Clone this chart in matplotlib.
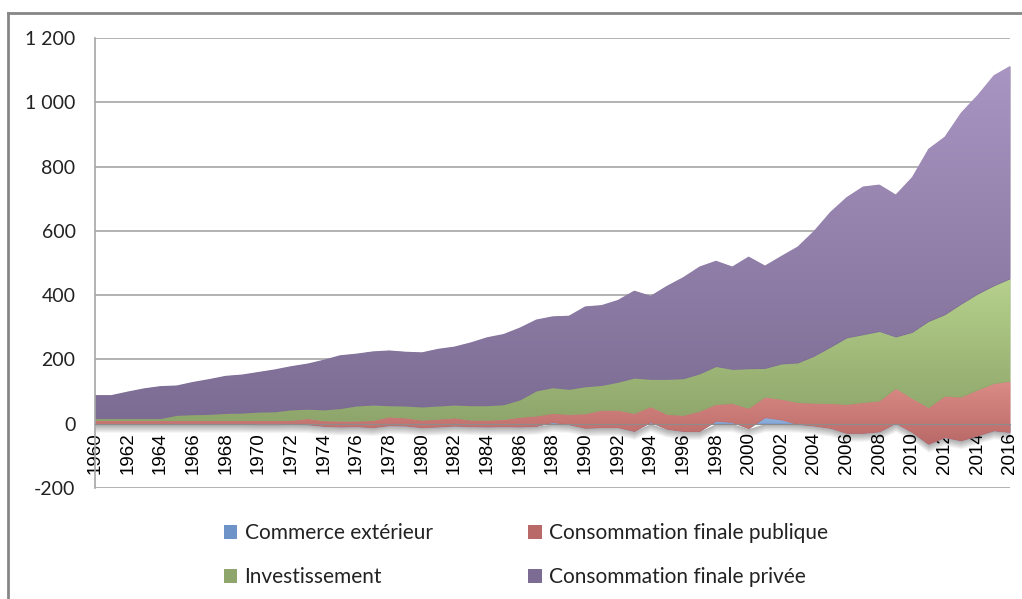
import numpy as np
import matplotlib
matplotlib.use("Agg")
import matplotlib.pyplot as plt
from matplotlib.colors import LinearSegmentedColormap
from matplotlib.patches import Patch
from matplotlib.lines import Line2D


# =============================================================================
# data
# =============================================================================

years = np.arange(1960, 2017)

commerce = np.array([-2, -2, -2, -2, -2, -2, -2, -2, -2, -2, -3, -3, -2, -3, -8,
                     -10, -9, -12, -6, -7, -12, -10, -7, -9, -10, -9, -10, -8, 4,
                     -3, -14, -12, -12, -24, 4, -17, -24, -24, 8, 4, -15, 19, 12,
                     -2, -7, -14, -30, -30, -25, 1, -27, -64, -43, -53, -38, -22,
                     -27])

publique = np.array([12, 12, 12, 12, 12, 12, 12, 12, 12, 12, 13, 13, 12, 19, 17,
                     18, 17, 22, 27, 25, 23, 24, 25, 20, 21, 22, 30, 32, 28, 32,
                     45, 54, 54, 56, 49, 46, 50, 63, 52, 59, 63, 64, 64, 68, 71,
                     77, 90, 96, 96, 109, 106, 114, 129, 136, 143, 147, 159])

investissement = np.array([6, 6, 6, 6, 6, 16, 18, 19, 22, 23, 26, 27, 33, 29, 34,
                           39, 47, 48, 35, 37, 41, 41, 40, 45, 45, 46, 54, 78, 80,
                           78, 84, 77, 87, 110, 85, 109, 114, 116, 118, 106, 123,
                           89, 110, 123, 146, 175, 207, 211, 216, 160, 205, 268,
                           253, 289, 298, 304, 319])

privee = np.array([73, 73, 84, 94, 101, 93, 102, 110, 117, 120, 125, 132, 136,
                   142, 156, 166, 163, 167, 172, 169, 170, 178, 182, 197, 213,
                   220, 225, 222, 222, 229, 250, 250, 256, 272, 260, 291, 316,
                   334, 329, 320, 349, 320, 336, 362, 390, 421, 438, 461, 457,
                   443, 483, 537, 554, 596, 619, 655, 662])

labels = ['Commerce extérieur', 'Consommation finale publique',
          'Investissement', 'Consommation finale privée']

# (top colour, bottom colour) of each gradient
colors = [('#8FB0DE', '#6E93C8'),
          ('#DC8C86', '#B96A68'),
          ('#B6D18C', '#8EA66B'),
          ('#A995C2', '#7C6C93')]


def grad_fill(ax, x, lo, hi, c_top, c_bot, z):
    poly = ax.fill_between(x, lo, hi, color=c_bot, lw=0, zorder=z)
    ymin = min(lo.min(), hi.min())
    ymax = max(lo.max(), hi.max())
    cmap = LinearSegmentedColormap.from_list('g', [c_bot, c_top])
    im = ax.imshow(np.linspace(0, 1, 256).reshape(-1, 1), cmap=cmap,
                   aspect='auto', origin='lower', interpolation='bilinear',
                   extent=[x[0], x[-1], ymin, ymax], zorder=z)
    im.set_clip_path(poly.get_paths()[0], transform=ax.transData)
    return poly


# =============================================================================
# plot
# =============================================================================

fig = plt.figure(figsize=(10.22, 5.99), dpi=100)
ax = fig.add_axes([95/1022, 1 - 488/599, 915/1022, 450/599])

# axis line at zero (set before the tick labels, it resets the ticks)
ax.spines['bottom'].set_position(('data', 0))
ax.spines['bottom'].set_color('#8C8C8C')
ax.spines['bottom'].set_zorder(5)
ax.spines['left'].set_color('#A6A6A6')
ax.spines['left'].set_linewidth(1.2)
ax.spines['top'].set_visible(False)
ax.spines['right'].set_visible(False)

series = [commerce, publique, investissement, privee]
bottom = np.zeros(len(years))
# soft shadow under the stack
env = np.minimum(bottom, commerce)
for k in range(1, 9):
    ax.fill_between(years, env - k * 3.1, env, color='k', alpha=0.045,
                    lw=0, zorder=0.5)

for i, s in enumerate(series):
    top = bottom + s
    grad_fill(ax, years, bottom.astype(float), top.astype(float),
              colors[i][0], colors[i][1], 1 + i * 0.01)
    bottom = top

ax.set_xlim(1960, 2016)
ax.set_ylim(-200, 1200)
yt = np.arange(-200, 1201, 200)
ax.set_yticks(yt)
ax.set_yticklabels([('%d' % v) if abs(v) < 1000 else '1 %03d' % (v - 1000)
                    for v in yt],
                   fontsize=14, family=['Lato', 'DejaVu Sans'], color='#222222')
ax.tick_params(axis='y', length=0, pad=14)

ax.set_xticks(np.arange(1960, 2017, 2))
ax.set_xticklabels([str(y) for y in range(1960, 2017, 2)], rotation=90,
                   fontsize=13.5, family=['Liberation Sans', 'DejaVu Sans'])
ax.tick_params(axis='x', length=0, pad=6)

ax.grid(axis='y', color='#A6A6A6', lw=1.2, zorder=0)
ax.set_axisbelow(True)

# legend fills column by column, so order for two rows
order = [0, 2, 1, 3]
handles = [Patch(facecolor=colors[i][1], edgecolor='none') for i in order]
fig.legend(handles, [labels[i] for i in order], loc='center', ncol=2,
           bbox_to_anchor=(526/1022, 1 - 555/599), frameon=False,
           prop={'family': ['Lato', 'DejaVu Sans'], 'size': 15},
           handlelength=0.65, handleheight=0.65, handletextpad=0.35,
           columnspacing=4.6, labelspacing=1.15, labelcolor='#222222')

# outer chart frame
fig.add_artist(Line2D([8/1022, 1.0], [1 - 13/599, 1 - 13/599], color='#868686', lw=2))
fig.add_artist(Line2D([8/1022, 8/1022], [0, 1 - 13/599], color='#868686', lw=2))

fig.savefig('out.png', dpi=100)
